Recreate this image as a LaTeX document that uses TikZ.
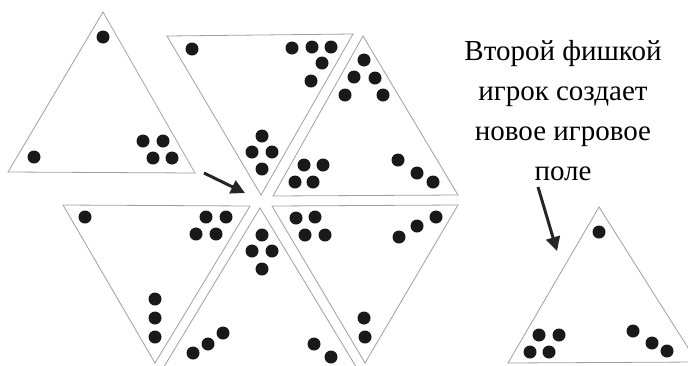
\documentclass[tikz,border=0pt]{standalone}
\usepackage{fontspec}
\setmainfont{Liberation Serif}
\usetikzlibrary{arrows.meta}

\begin{document}
\begin{tikzpicture}[
    x=1pt, y=-1pt,
    tri/.style={draw=gray!75, line width=0.8pt, line join=miter},
    chip/.style={fill=black!90},
    ar/.style={-{Triangle[length=14pt,width=14pt]}, line width=3pt, black!85},
  ]
    \useasboundingbox (0,0) rectangle (688,365);
    \clip (0,0) rectangle (688,365);

    % top row
    \draw[tri] (103,12) -- (8,172) -- (195,173) -- cycle;
    \draw[tri] (167,36) -- (353,34) -- (261,195) -- cycle;
    \draw[tri] (363,36) -- (273,196) -- (458,195) -- cycle;
    % bottom row
    \draw[tri] (63,205) -- (250,206) -- (155,363) -- cycle;
    \draw[tri] (260,208) -- (162,370) -- (358,370) -- cycle;
    \draw[tri] (272,206) -- (458,205) -- (365,363) -- cycle;
    % new field
    \draw[tri] (599,207) -- (508,363) -- (697,362) -- cycle;

    % chips
    \foreach \p in {(103,37),(34,157),(143,141),(163,141),(153,158),(172,158),
        (192,49),(292,48),(312,47),(331,47),(322,63),(311,81),
        (262,136),(252,152),(272,152),(262,169),
        (364,60),(354,77),(375,78),(345,95),(383,95),
        (304,165),(323,165),(295,182),(313,182),(398,160),(417,173),(433,182),
        (85,217),(206,217),(226,217),(196,234),(216,234),(155,299),(155,318),(155,337),
        (262,235),(252,251),(272,251),(262,269),(193,353),(208,344),(223,333),(314,344),(331,357),
        (296,218),(315,217),(305,235),(325,235),(399,237),(417,226),(436,217),(364,318),(365,337),
        (599,232),(539,335),(559,335),(530,352),(549,352),(633,331),(652,343),(667,351)}
      \fill[chip] \p circle (6.5);

    \node[font=\fontsize{29}{40}\selectfont, align=center] (txt) at (563,111)
      {Второй фишкой\\игрок создает\\новое игровое\\поле};

    \coordinate (a1) at (204,173);
    \coordinate (b1) at (245,193);
    \coordinate (a2) at (538,187);
    \coordinate (b2) at (557,251);
    \draw[ar] (a1) -- (b1);
    \draw[ar] (a2) -- (b2);
  \end{tikzpicture}
\end{document}
